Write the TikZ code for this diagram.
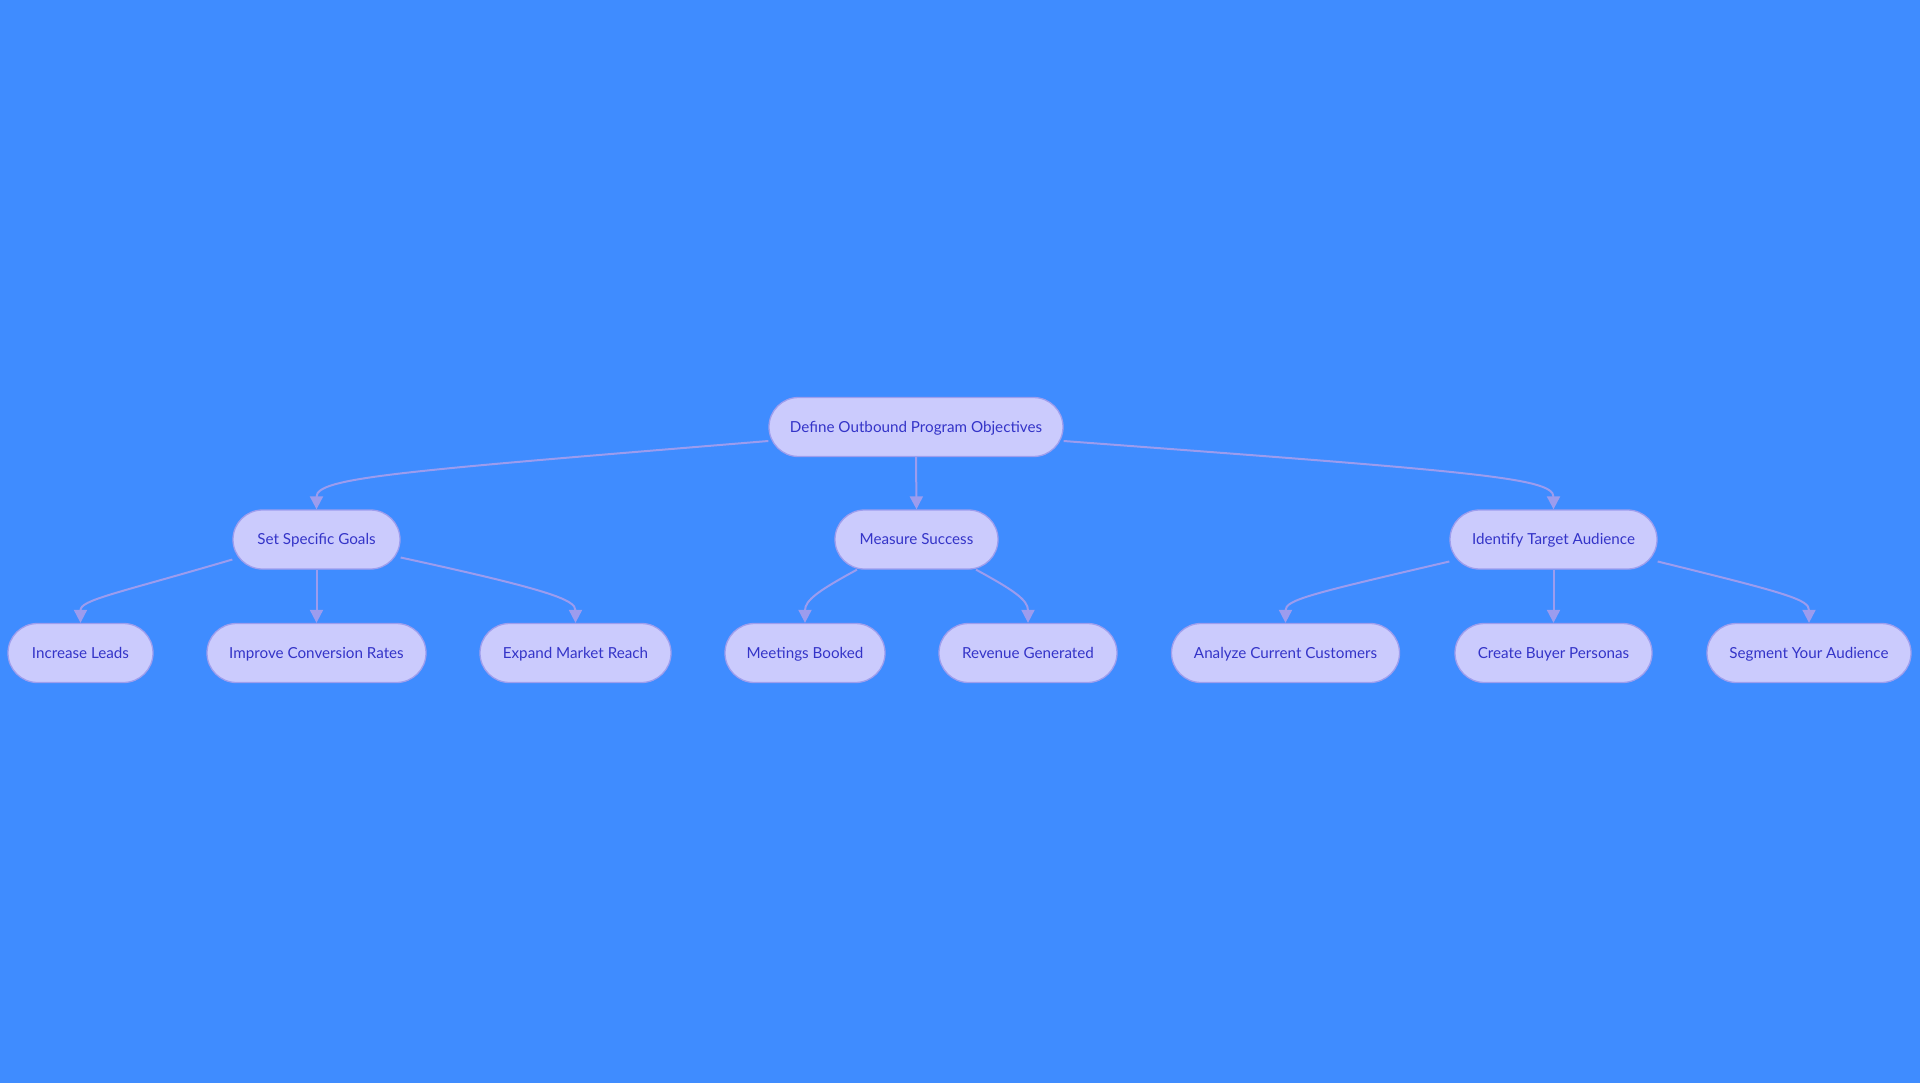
\documentclass[tikz,border=0pt]{standalone}
\usepackage{fontspec}
\setmainfont{Lato}
\usetikzlibrary{shapes.misc,arrows.meta,calc}
\definecolor{bgc}{HTML}{3F8CFF}
\definecolor{nodefill}{HTML}{CBCBFD}
\definecolor{nodeline}{HTML}{9E9EEE}
\definecolor{edgec}{HTML}{9C9CEE}
\definecolor{txtc}{HTML}{3434C8}
\begin{document}
\begin{tikzpicture}[x=1pt,y=-1pt,
  box/.style={rounded rectangle, draw=nodeline, line width=1.3pt, fill=nodefill,
    text=txtc, font=\fontsize{15.2}{18}\selectfont, minimum height=59pt, inner xsep=0pt, inner ysep=0pt,
    text height=12pt, text depth=2pt},
  edge/.style={draw=edgec, line width=2pt, -{Triangle[length=13pt,width=13pt]}}]
\fill[bgc] (0,0) rectangle (1920,1083);
\useasboundingbox (0,0) rectangle (1920,1083);

\node[box, minimum width=294pt] (root) at (916,427) {Define Outbound Program Objectives};

\node[box, minimum width=167pt] (ssg) at (316.5,539.5) {Set Specific Goals};
\node[box, minimum width=163pt] (ms) at (916.5,539.5) {Measure Success};
\node[box, minimum width=207pt] (ita) at (1553.5,539.5) {Identify Target Audience};

\node[box, minimum width=145pt] (il) at (80.5,653) {Increase Leads};
\node[box, minimum width=219pt] (icr) at (316.5,653) {Improve Conversion Rates};
\node[box, minimum width=191pt] (emr) at (575.5,653) {Expand Market Reach};
\node[box, minimum width=160pt] (mb) at (805,653) {Meetings Booked};
\node[box, minimum width=178pt] (rg) at (1028,653) {Revenue Generated};
\node[box, minimum width=228pt] (acc) at (1285.5,653) {Analyze Current Customers};
\node[box, minimum width=197pt] (cbp) at (1553.5,653) {Create Buyer Personas};
\node[box, minimum width=204pt] (sya) at (1809,653) {Segment Your Audience};

% root edges
\draw[edge] ($(root.west)+(0,14)$) .. controls ($(ssg.north)+(84,-38)$) and ($(ssg.north)+(0,-32)$) .. (ssg.north);
\draw[edge] (root.south) -- (ms.north);
\draw[edge] ($(root.east)+(0,14)$) .. controls ($(ita.north)+(-84,-38)$) and ($(ita.north)+(0,-32)$) .. (ita.north);

% ssg edges
\draw[edge] ($(ssg.west)+(0,20)$) .. controls ($(il.north)+(35,-29)$) and ($(il.north)+(0,-23)$) .. (il.north);
\draw[edge] (ssg.south) -- (icr.north);
\draw[edge] ($(ssg.east)+(0,18)$) .. controls ($(emr.north)+(-26,-33)$) and ($(emr.north)+(0,-23)$) .. (emr.north);

% ms edges
\draw[edge] ($(ms.south)+(-59.5,0)$) .. controls ($(mb.north)+(15,-33)$) and ($(mb.north)+(0,-23)$) .. (mb.north);
\draw[edge] ($(ms.south)+(59.5,0)$) .. controls ($(rg.north)+(-15,-33)$) and ($(rg.north)+(0,-23)$) .. (rg.north);

% ita edges
\draw[edge] ($(ita.west)+(0,22)$) .. controls ($(acc.north)+(25,-29)$) and ($(acc.north)+(0,-23)$) .. (acc.north);
\draw[edge] (ita.south) -- (cbp.north);
\draw[edge] ($(ita.east)+(0,22)$) .. controls ($(sya.north)+(-19,-29)$) and ($(sya.north)+(0,-23)$) .. (sya.north);
\end{tikzpicture}
\end{document}
